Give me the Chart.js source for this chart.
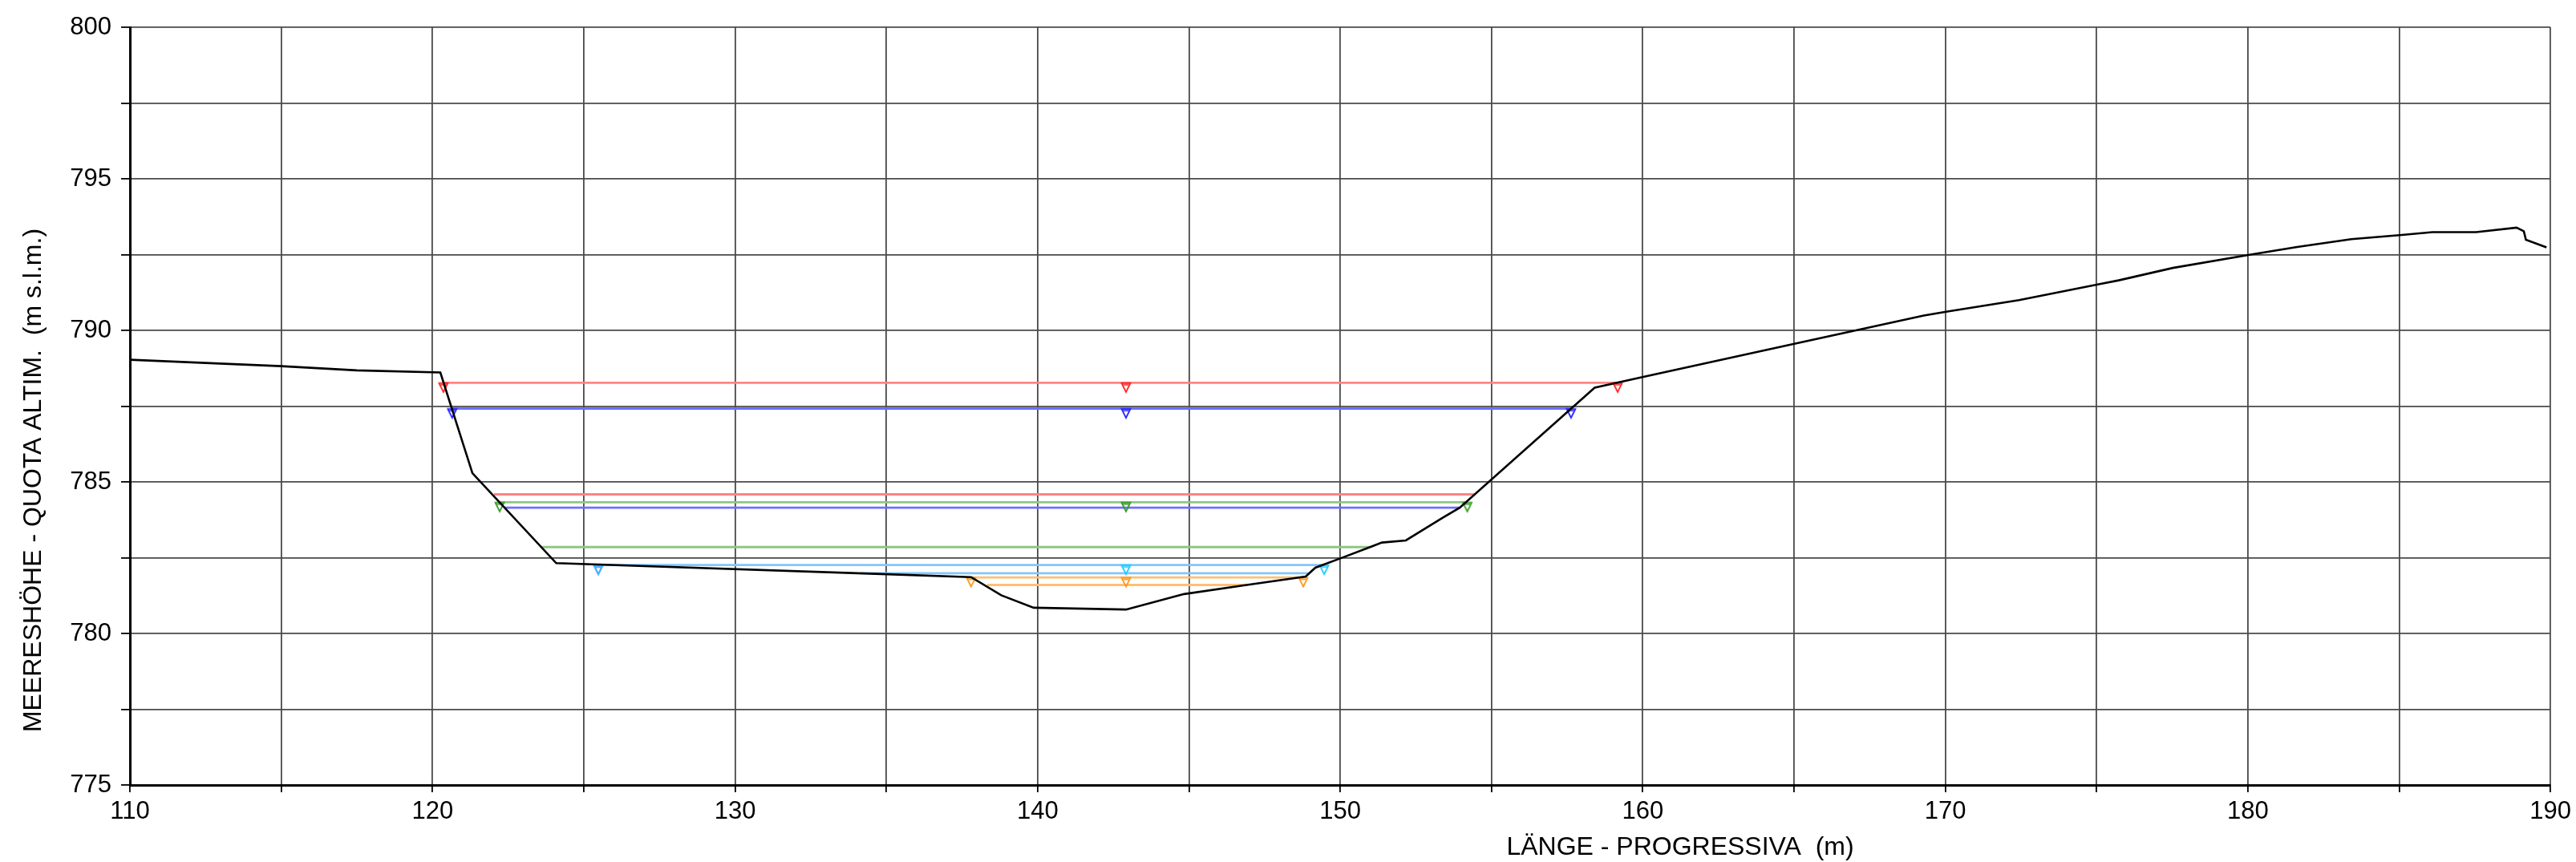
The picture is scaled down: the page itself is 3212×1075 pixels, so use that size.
<!DOCTYPE html>
<html>
<head>
<meta charset="utf-8">
<script src="https://cdn.jsdelivr.net/npm/chart.js@4.4.1/dist/chart.umd.min.js"></script>
<style>
  html, body { margin: 0; padding: 0; background: #ffffff; }
  #wrap { width: 3212px; height: 1075px; position: relative; }
  canvas { display: block; }
</style>
</head>
<body>
<div id="wrap"><canvas id="c" width="3212" height="1075"></canvas></div>
<script>
// ---- Data ----
const terrainX = [110, 115, 117.5, 120.26, 121.32, 124.09, 134.84, 137.8, 138.8, 139.87, 142.92, 144.84, 146.91, 148.86, 149.18, 150.04, 150.99, 151.38, 152.17, 153.39, 153.95, 158.41, 160.05, 165.07, 169.29, 170.07, 172.44, 175.07, 175.73, 177.52, 180.09, 181.63, 183.42, 185.09, 186.1, 187.54, 188.88, 189.12, 189.19, 189.87];
const terrainY = [789.03, 788.82, 788.68, 788.61, 785.29, 782.32, 781.96, 781.86, 781.26, 780.85, 780.79, 781.3, 781.6, 781.88, 782.17, 782.49, 782.85, 783.0, 783.07, 783.82, 784.15, 788.11, 788.47, 789.57, 790.49, 790.62, 791.0, 791.52, 791.65, 792.06, 792.5, 792.75, 793.01, 793.15, 793.24, 793.24, 793.39, 793.27, 792.99, 792.74];

const levelY      = [788.27, 787.42, 784.59, 784.33, 784.15, 782.85, 782.26, 781.99, 781.85, 781.60];
const levelStart  = [120.36, 120.65, 122.03, 122.22, 122.39, 123.60, 125.48, 134.15, 137.80, 138.33];
const levelEnd    = [159.17, 157.63, 154.45, 154.20, 153.95, 150.99, 149.47, 148.99, 148.78, 146.91];
const levelMarked = [true, true, false, true, false, false, true, false, true, false];
const markerMidX  = 142.92;
const extraMarkerX = [125.48];
const extraMarkerY = [782.26];

const xTickValues = [110, 120, 130, 140, 150, 160, 170, 180, 190];
const yTickValues = [775, 780, 785, 790, 795, 800];

// ---- Styles ----
const levelLineColors = ['#ff8484', '#6f6fff', '#ff8484', '#8fc684', '#6f6fff', '#8fc684', '#80c6ff', '#80c6ff', '#ffbf74', '#ffbf74'];
const levelMarkColors = ['#ff2020', '#2020ff', '#ff2020', '#339a22', '#2020ff', '#339a22', '#18ccff', '#18ccff', '#ff9618', '#ff9618'];
const FONT = '"Liberation Sans", Arial, sans-serif';

function makeMarker(color) {
  const c = document.createElement('canvas');
  c.width = 16; c.height = 30;
  const g = c.getContext('2d');
  g.strokeStyle = color;
  g.lineWidth = 1.8;
  g.beginPath();
  g.moveTo(2.5, 15.5);
  g.lineTo(13.5, 15.5);
  g.lineTo(8, 26.5);
  g.closePath();
  g.stroke();
  g.lineWidth = 1.4;
  g.beginPath();
  g.moveTo(4.5, 17.6);
  g.lineTo(11.5, 17.6);
  g.stroke();
  return c;
}

const datasets = [];
datasets.push({
  label: 'terrain',
  data: terrainX.map((x, i) => ({ x: x, y: terrainY[i] })),
  showLine: true,
  borderColor: '#000000',
  borderWidth: 2.6,
  pointRadius: 0,
  tension: 0,
  order: 0
});

levelY.forEach((y, i) => {
  const pts = [{ x: levelStart[i], y: y }];
  if (levelMarked[i]) pts.push({ x: markerMidX, y: y });
  pts.push({ x: levelEnd[i], y: y });
  const mk = makeMarker(levelMarkColors[i]);
  datasets.push({
    label: 'level' + i,
    data: pts,
    showLine: true,
    borderColor: levelLineColors[i],
    borderWidth: 2.8,
    pointStyle: levelMarked[i] ? mk : 'circle',
    pointRadius: levelMarked[i] ? 8 : 0,
    tension: 0,
    order: 1
  });
});

datasets.push({
  label: 'extra',
  data: extraMarkerX.map((x, i) => ({ x: x, y: extraMarkerY[i] })),
  showLine: false,
  pointStyle: makeMarker('#ff30ff'),
  pointRadius: 8,
  order: 2
});

const titlesPlugin = {
  id: 'titles',
  afterDraw(chart) {
    const ctx = chart.ctx;
    ctx.save();
    ctx.fillStyle = '#000';
    ctx.font = '32px ' + FONT;
    ctx.textAlign = 'center';
    ctx.textBaseline = 'middle';
    ctx.fillText('LÄNGE - PROGRESSIVA  (m)', 2095, 1057);
    ctx.translate(42, 599);
    ctx.rotate(-Math.PI / 2);
    ctx.fillText('MEERESHÖHE - QUOTA ALTIM.  (m s.l.m.)', 0, 0);
    ctx.restore();
  }
};

new Chart(document.getElementById('c'), {
  type: 'scatter',
  data: { datasets: datasets },
  options: {
    responsive: false,
    animation: false,
    devicePixelRatio: 1,
    layout: { padding: { left: 0, right: 30, top: 34, bottom: 0 } },
    plugins: { legend: { display: false }, tooltip: { enabled: false } },
    scales: {
      x: {
        type: 'linear',
        min: 110, max: 190,
        afterFit(s) { s.height = 96; },
        ticks: {
          stepSize: 5,
          autoSkip: false,
          maxRotation: 0,
          padding: 6,
          color: '#000',
          font: { size: 31, family: FONT },
          callback: v => (xTickValues.includes(v) ? String(v) : '')
        },
        grid: { color: '#4a4a4a', lineWidth: 1.8, tickLength: 9, tickColor: '#000' },
        border: { color: '#000', width: 3 }
      },
      y: {
        type: 'linear',
        min: 775, max: 800,
        afterFit(s) { s.width = 162; },
        ticks: {
          stepSize: 2.5,
          autoSkip: false,
          padding: 12,
          color: '#000',
          font: { size: 31, family: FONT },
          callback: v => (yTickValues.includes(v) ? String(v) : '')
        },
        grid: { color: '#4a4a4a', lineWidth: 1.8, tickLength: 11, tickColor: '#000' },
        border: { color: '#000', width: 3 }
      }
    }
  },
  plugins: [titlesPlugin]
});
</script>
</body>
</html>
